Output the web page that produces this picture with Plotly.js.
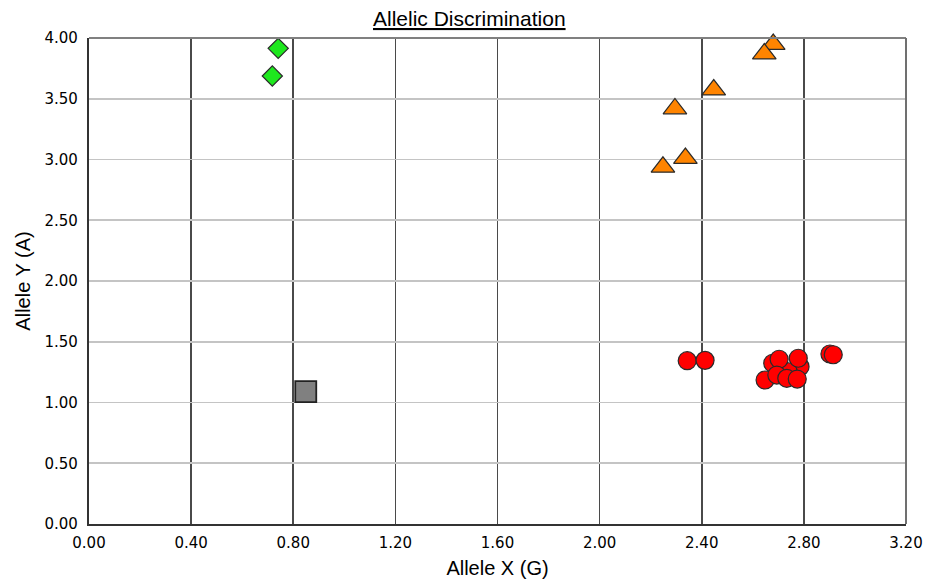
<!DOCTYPE html>
<html>
<head>
<meta charset="utf-8">
<script src="https://cdn.plot.ly/plotly-3.0.1.min.js"></script>
<style>html,body{margin:0;padding:0;background:#fff;}#chart{width:933px;height:583px;}</style>
</head>
<body>
<div id="chart"></div>
<script>
// Allele X (G) / Allele Y (A) values per cluster
const greenX = [0.741, 0.718];
const greenY = [3.915, 3.687];
const grayX = [0.849];
const grayY = [1.089];
const orangeX = [2.680, 2.645, 2.447, 2.295, 2.336, 2.248];
const orangeY = [3.948, 3.870, 3.574, 3.418, 3.010, 2.938];
const redX = [2.678, 2.785, 2.739, 2.343, 2.413, 2.703, 2.778, 2.648, 2.694, 2.733, 2.774, 2.902, 2.915];
const redY = [1.323, 1.295, 1.253, 1.344, 1.347, 1.356, 1.364, 1.185, 1.226, 1.199, 1.193, 1.399, 1.393];
const xTicks = [0, 0.4, 0.8, 1.2, 1.6, 2.0, 2.4, 2.8, 3.2];
const yTicks = [0, 0.5, 1.0, 1.5, 2.0, 2.5, 3.0, 3.5, 4.0];

const outline = {color: '#2a2a2a', width: 1.2};
const traces = [
  {x: greenX, y: greenY, type: 'scatter', mode: 'markers', cliponaxis: false,
   marker: {symbol: 'diamond', size: 15.5, color: '#1ee81e', line: outline}},
  {x: grayX, y: grayY, type: 'scatter', mode: 'markers', cliponaxis: false,
   marker: {symbol: 'square', size: 21, color: '#808080', line: {color: '#222', width: 1.8}}},
  {x: orangeX, y: orangeY, type: 'scatter', mode: 'markers', cliponaxis: false,
   marker: {symbol: 'triangle-up', size: 20.5, color: '#ff8400', line: outline}},
  {x: redX, y: redY, type: 'scatter', mode: 'markers', cliponaxis: false,
   marker: {symbol: 'circle', size: 18, color: '#ff0000', line: outline}}
];

const tickFont = {family: 'DejaVu Sans, Verdana, sans-serif', size: 15, color: '#000'};
const titleFont = {family: 'Liberation Sans, Arial, sans-serif', size: 20, color: '#000'};

const layout = {
  width: 933, height: 583,
  margin: {l: 89, r: 27, t: 38, b: 59, pad: 0},
  paper_bgcolor: '#fff', plot_bgcolor: '#fff',
  showlegend: false,
  title: {text: '<u>Allelic Discrimination</u>', x: 0.503, xref: 'container', y: 0.968, yref: 'container',
          yanchor: 'middle', font: {family: 'Liberation Sans, Arial, sans-serif', size: 21, color: '#000'}},
  xaxis: {range: [0, 3.2], tickvals: xTicks, tickformat: '.2f', tickfont: tickFont,
          showgrid: true, gridcolor: '#4a4a4a', gridwidth: 1.6, zeroline: false,
          showline: true, linecolor: '#333', linewidth: 2.2, ticks: '', ticklabelstandoff: 4,
          title: {text: 'Allele X (G)', font: titleFont, standoff: 10}},
  yaxis: {range: [0, 4], tickvals: yTicks, tickformat: '.2f', tickfont: tickFont,
          showgrid: true, gridcolor: '#c4c4c4', gridwidth: 1.6, zeroline: false,
          showline: true, linecolor: '#333', linewidth: 2.2, ticks: '', ticklabelstandoff: 6,
          title: {text: 'Allele Y (A)', font: titleFont, standoff: 8}},
  shapes: [
    {type: 'line', xref: 'paper', yref: 'paper', x0: 0, x1: 1, y0: 1, y1: 1, line: {color: '#808080', width: 2}},
    {type: 'line', xref: 'paper', yref: 'paper', x0: 1, x1: 1, y0: 0, y1: 1, line: {color: '#707070', width: 2}}
  ]
};

Plotly.newPlot('chart', traces, layout, {displayModeBar: false, staticPlot: true});
</script>
</body>
</html>
